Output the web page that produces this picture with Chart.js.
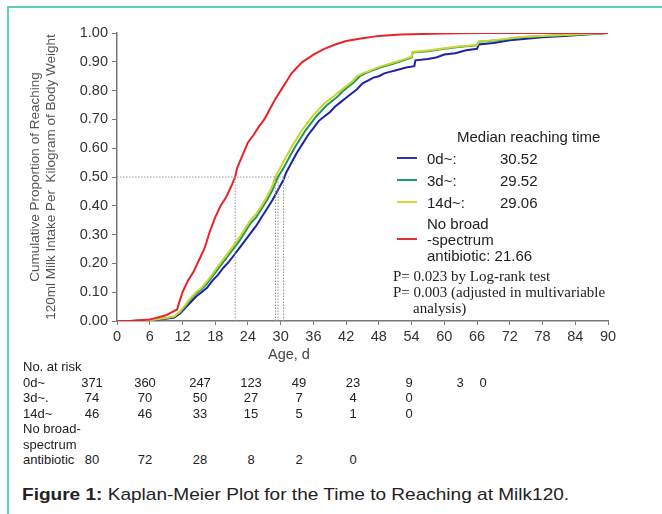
<!DOCTYPE html>
<html>
<head>
<meta charset="utf-8">
<script src="https://cdn.jsdelivr.net/npm/chart.js@4.4.1/dist/chart.umd.min.js"></script>
<style>
body { margin: 0; background: #fff; font-family: "Liberation Sans", Arial, sans-serif; color: #222; }
#page { position: relative; width: 662px; height: 514px; overflow: hidden; }
#frame { position: absolute; left: 7px; top: 6px; width: 700px; height: 600px; border-left: 2px solid #5dcfbd; border-top: 2px solid #5dcfbd; }
canvas { position: absolute; left: 0; top: 0; }
.t { position: absolute; white-space: nowrap; line-height: 1; transform: translateY(-50%); }
.c { transform: translate(-50%, -50%); }
.wide { transform-origin: left center; transform: translateY(-50%) scaleX(1.12); }
.mark { position: absolute; width: 20px; height: 2px; }
.serif { font-family: "Liberation Serif", "Times New Roman", serif; font-size: 15px; }
</style>
</head>
<body>
<div id="page">
  <div id="frame"></div>
  <canvas id="kmChart" width="662" height="362"></canvas>
  <div id="overlay"></div>
</div>
<script>
// groups and their median reaching time (days)
const groups = ['0d~', '3d~', '14d~', 'No broad-spectrum antibiotic'];
const medians = [30.52, 29.52, 29.06, 21.66];
const refLineEnd = 31.5; // horizontal dotted line at 0.5 ends here

// cumulative proportion curves, [age in days, proportion]
const curve0d = [[0,0],[2.5,0],[6,0.003],[9,0.008],[10.5,0.012],[11.5,0.025],[12.5,0.045],[13.5,0.065],[14.5,0.085],[15.5,0.1],[16.5,0.115],[17.5,0.14],[18.5,0.16],[19.5,0.185],[20.5,0.205],[21.5,0.23],[22.5,0.255],[23.5,0.28],[24.5,0.305],[25.5,0.33],[26.5,0.36],[27.5,0.39],[28.5,0.42],[29.5,0.455],[30.5,0.49],[31,0.515],[32,0.55],[33,0.585],[34,0.615],[35,0.645],[36,0.67],[37,0.695],[38,0.71],[39,0.725],[40,0.745],[41,0.76],[42,0.775],[43,0.79],[44,0.805],[45,0.825],[46,0.835],[47,0.845],[48,0.85],[49,0.86],[50,0.865],[51,0.87],[52,0.875],[53,0.88],[54.5,0.885],[54.7,0.905],[57,0.91],[58.5,0.915],[60,0.925],[62,0.93],[64,0.94],[66,0.945],[66.3,0.96],[69,0.965],[72,0.975],[75,0.98],[78,0.985],[82,0.99],[86,0.995],[90,1.0]];
const curve3d = [[0,0],[2.5,0],[6,0.003],[9,0.01],[10.5,0.015],[11.5,0.03],[12.5,0.05],[13.5,0.075],[14.5,0.095],[15.5,0.11],[16.5,0.13],[17.5,0.155],[18.5,0.18],[19.5,0.205],[20.5,0.23],[21.5,0.255],[22.5,0.28],[23.5,0.31],[24.5,0.34],[25.5,0.36],[26.5,0.39],[27.5,0.42],[28.5,0.455],[29.5,0.5],[30.5,0.53],[31.5,0.565],[32.5,0.6],[33.5,0.63],[34.5,0.66],[35.5,0.685],[36.5,0.71],[37.5,0.73],[38.5,0.75],[39.5,0.765],[40.5,0.78],[41.5,0.8],[42.5,0.815],[43.5,0.83],[44.5,0.85],[45.5,0.86],[46.5,0.868],[47.5,0.875],[48.5,0.882],[50,0.89],[52,0.902],[54,0.915],[54.2,0.932],[57,0.937],[60,0.945],[63,0.952],[66,0.957],[66.3,0.97],[70,0.975],[74,0.985],[78,0.99],[84,0.995],[90,1.0]];
const curve14d = [[0,0],[2.5,0],[6,0.003],[9,0.01],[10.5,0.016],[11.5,0.032],[12.5,0.055],[13.5,0.08],[14.5,0.1],[15.5,0.115],[16.5,0.138],[17.5,0.163],[18.5,0.19],[19.5,0.215],[20.5,0.24],[21.5,0.265],[22.5,0.292],[23.5,0.322],[24.5,0.35],[25.5,0.372],[26.5,0.4],[27.5,0.432],[28.5,0.47],[29,0.5],[30,0.535],[31,0.57],[32,0.605],[33,0.635],[34,0.665],[35,0.69],[36,0.715],[37,0.735],[38,0.755],[39,0.77],[40,0.785],[41,0.8],[42,0.815],[43,0.83],[44,0.85],[45,0.86],[46.5,0.87],[47.5,0.878],[48.5,0.885],[50,0.893],[52,0.905],[54,0.918],[54.2,0.934],[57,0.939],[60,0.947],[63,0.954],[66,0.958],[66.3,0.97],[70,0.977],[74,0.986],[78,0.99],[84,0.995],[90,1.0]];
const curveNone = [[0,0],[2.5,0],[6,0.005],[7,0.01],[8,0.015],[9,0.02],[10,0.03],[11,0.04],[12,0.1],[13,0.14],[14,0.17],[15,0.21],[16,0.25],[17,0.31],[18,0.36],[19,0.4],[20,0.43],[21,0.47],[21.66,0.5],[22,0.53],[23,0.575],[24,0.62],[25,0.645],[26,0.675],[27,0.7],[28,0.735],[29,0.77],[30,0.8],[31,0.83],[32,0.86],[33,0.88],[34,0.9],[35,0.912],[36,0.925],[38,0.945],[40,0.96],[42,0.972],[45,0.982],[48,0.99],[52,0.995],[60,0.998],[66,1.0],[90,1.0]];

// numbers at risk
const riskLabels = ['0d~', '3d~.', '14d~', 'antibiotic'];
const risk0d = [371, 360, 247, 123, 49, 23, 9, 3, 0];
const risk3d = [74, 70, 50, 27, 7, 4, 0];
const risk14d = [46, 46, 33, 15, 5, 1, 0];
const riskNone = [80, 72, 28, 8, 2, 0];

const curves = [curve0d, curve3d, curve14d, curveNone];
const lineColors = ['#1e22a6', '#22975a', '#c9d630', '#ea2229'];
const legendColors = ['#3333b0', '#1f9a74', '#d8d63a', '#e23030'];

const toXY = arr => arr.map(p => ({x: p[0], y: p[1]}));

const datasets = [];
// dotted reference lines at the medians
datasets.push({data: [{x: 0, y: 0.5}, {x: refLineEnd, y: 0.5}], borderColor: '#999', borderWidth: 1, borderDash: [1.5, 1.5], pointRadius: 0});
medians.forEach(m => {
    datasets.push({data: [{x: m, y: 0}, {x: m, y: 0.5}], borderColor: '#999', borderWidth: 1, borderDash: [1.5, 1.5], pointRadius: 0});
});
// draw order: red, yellow, green, blue on top
[3, 2, 1, 0].forEach(i => {
    datasets.push({label: groups[i], data: toXY(curves[i]), borderColor: lineColors[i], borderWidth: 2, pointRadius: 0, tension: 0});
});

new Chart(document.getElementById('kmChart'), {
    type: 'line',
    data: {datasets},
    options: {
        responsive: false,
        animation: false,
        layout: {padding: {top: 33, right: 54, left: 0, bottom: 0}},
        plugins: {legend: {display: false}, tooltip: {enabled: false}},
        scales: {
            x: {
                type: 'linear', min: 0, max: 90,
                ticks: {stepSize: 6, color: '#333', font: {size: 14.5, family: 'Liberation Sans'}, padding: 3},
                grid: {drawOnChartArea: false, tickLength: 4, color: '#777'},
                border: {color: '#777', width: 1.5},
                afterFit: s => { s.height = 41; }
            },
            y: {
                min: 0, max: 1,
                ticks: {stepSize: 0.1, color: '#333', font: {size: 14.5, family: 'Liberation Sans'}, padding: 4, callback: v => v.toFixed(2)},
                grid: {drawOnChartArea: false, tickLength: 5, color: '#777'},
                border: {color: '#777', width: 1.5},
                title: {
                    display: true,
                    text: ['Cumulative Proportion of Reaching', '120ml Milk Intake Per  Kilogram of Body Weight'],
                    color: '#555', font: {size: 13.5, family: 'Liberation Sans'}, padding: {top: 27, bottom: 0}
                },
                afterFit: s => { s.width = 117; }
            }
        }
    }
});

// text overlay: legend, risk table, caption
const ov = document.getElementById('overlay');
function addText(txt, x, y, size, cls) {
    const el = document.createElement('div');
    el.className = 't' + (cls ? ' ' + cls : '');
    el.style.left = x + 'px';
    el.style.top = y + 'px';
    if (size) el.style.fontSize = size + 'px';
    el.innerHTML = txt;
    ov.appendChild(el);
    return el;
}
function addMark(color, y) {
    const el = document.createElement('div');
    el.className = 'mark';
    el.style.left = '397px';
    el.style.top = (y - 1) + 'px';
    el.style.background = color;
    ov.appendChild(el);
}

addText('Age, d', 268, 354, 14.5).style.color = '#444';

addText('Median reaching time', 457, 136, 15);
const legendY = [158, 180, 202];
const legendNames = ['0d~:', '3d~:', '14d~:'];
legendY.forEach((y, i) => {
    addMark(legendColors[i], y);
    addText(legendNames[i], 427, y, 15);
    addText(medians[i].toFixed(2), 500, y, 15);
});
addMark(legendColors[3], 239);
addText('No broad', 427, 223, 15);
addText('-spectrum', 427, 239, 15);
addText('antibiotic: ' + medians[3].toFixed(2), 427, 255, 15);
addText('P= 0.023 by Log-rank test', 393, 276, null, 'serif');
addText('P= 0.003 (adjusted in multivariable', 393, 292, null, 'serif');
addText('analysis)', 413, 308, null, 'serif');

// risk table
const riskCols = [92, 145, 200, 251, 299, 353, 409, 460, 483];
const riskRowsY = [382, 397, 413, 459];
const riskRows = [risk0d, risk3d, risk14d, riskNone];
addText('No. at risk', 23, 366, 13);
riskRows.forEach((row, r) => {
    addText(riskLabels[r], 23, riskRowsY[r], 13);
    row.forEach((n, c) => addText(String(n), riskCols[c], riskRowsY[r], 13, 'c'));
});
addText('No broad-', 23, 428, 13);
addText('spectrum', 23, 444, 13);

addText('<b>Figure 1:</b> Kaplan-Meier Plot for the Time to Reaching at Milk120.', 22, 494, 17, 'wide');
</script>
</body>
</html>
